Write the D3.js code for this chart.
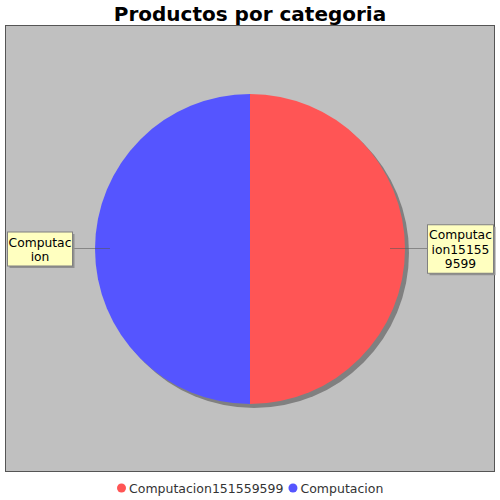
<!DOCTYPE html>
<html><head><meta charset="utf-8">
<script src="https://cdn.jsdelivr.net/npm/d3@7"></script>
<style>body{margin:0;background:#fff}svg{display:block}</style>
</head><body>
<script>
const title = "Productos por categoria";
const categories = ["Computacion151559599", "Computacion"];
const values = [1, 1];
const colors = ["#ff5555", "#5555ff"];
const labelLines = [["Computac", "ion15155", "9599"], ["Computac", "ion"]];

const W = 500, H = 500;
const svg = d3.select("body").append("svg").attr("width", W).attr("height", H);
const font = "DejaVu Sans, sans-serif";

svg.append("text").attr("x", 250).attr("y", 21).attr("text-anchor", "middle")
  .attr("font-family", font).attr("font-weight", "bold").attr("font-size", 20).text(title);

// plot area
const plot = {x: 5.5, y: 25.5, w: 489, h: 446};
svg.append("rect").attr("x", plot.x).attr("y", plot.y).attr("width", plot.w).attr("height", plot.h)
  .attr("fill", "#c0c0c0").attr("stroke", "#555").attr("stroke-width", 1);

const cx = 250, cy = 249, R = 155;
const pie = d3.pie().sort(null).startAngle(0).endAngle(2 * Math.PI);
const arcs = pie(values);
const arc = d3.arc().innerRadius(0).outerRadius(R);

// shadow
const sh = svg.append("g").attr("transform", `translate(${cx + 4},${cy + 4})`);
sh.selectAll("path").data(arcs).join("path").attr("d", arc).attr("fill", "#808080");

const g = svg.append("g").attr("transform", `translate(${cx},${cy})`);
g.selectAll("path").data(arcs).join("path").attr("d", arc).attr("fill", (d, i) => colors[i]);

// labels
const lh = 14.5;
arcs.forEach((d, i) => {
  const mid = (d.startAngle + d.endAngle) / 2;
  const right = Math.sin(mid) > 0;
  const lines = labelLines[i];
  const bw = right ? 66 : 65;
  const bh = lines.length * lh + 5;
  const bx = right ? 427 : 7;
  const by = cy - bh / 2 - 0.5;
  // link line
  const inner = cx + Math.sin(mid) * (R - 15);
  svg.append("line").attr("x1", right ? bx : bx + bw).attr("x2", inner)
    .attr("y1", cy - 0.5).attr("y2", cy - 0.5)
    .attr("stroke", "#555").attr("stroke-opacity", 0.55).attr("stroke-width", 1);
  svg.append("rect").attr("x", bx + 2.5).attr("y", by + 2.5).attr("width", bw).attr("height", bh)
    .attr("fill", "#909090");
  svg.append("rect").attr("x", bx + 0.5).attr("y", by + 0.5).attr("width", bw).attr("height", bh)
    .attr("fill", "#ffffc0").attr("stroke", "#808080");
  lines.forEach((t, j) => {
    svg.append("text").attr("x", bx + bw / 2 + 0.5).attr("y", by + 15 + j * lh)
      .attr("text-anchor", "middle").attr("font-family", font).attr("font-size", 12.3).text(t);
  });
});

// legend
const legend = svg.append("g");
const items = categories.map((c, i) => ({c, i}));
let x = 117;
items.forEach(({c, i}) => {
  legend.append("circle").attr("cx", x + 4.5).attr("cy", 488).attr("r", 4.5).attr("fill", colors[i]);
  const t = legend.append("text").attr("x", x + 12).attr("y", 492.5).attr("font-family", font)
    .attr("font-size", 12.5).attr("fill", "#333").text(c);
  x += 12 + t.node().getComputedTextLength() + 5;
});
</script>
</body></html>
